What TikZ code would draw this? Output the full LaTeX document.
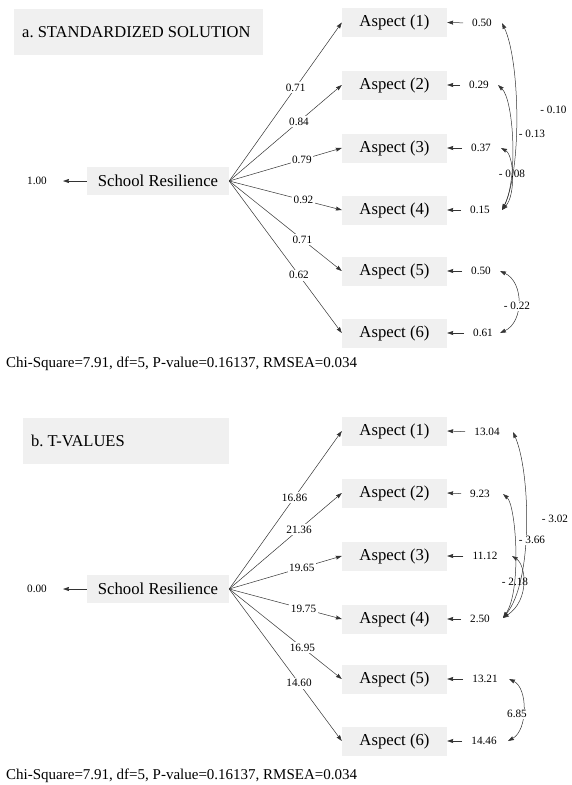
\documentclass[tikz,border=0pt]{standalone}
\usepackage{fontspec}
\setmainfont{Liberation Serif}
\usetikzlibrary{arrows.meta}
\definecolor{boxgray}{HTML}{F0F0F0}
\definecolor{linegray}{HTML}{333333}
\frenchspacing
\begin{document}
\begin{tikzpicture}[x=1pt,y=-1pt,
  titlebox/.style={fill=boxgray, anchor=north west, inner xsep=8pt, inner ysep=0pt, minimum height=46pt, font=\fontsize{16.5}{20}\selectfont},
  srbox/.style={fill=boxgray, inner sep=0pt, minimum width=142pt, minimum height=28pt, font=\fontsize{16.7}{20}\selectfont},
  abox/.style={fill=boxgray, inner sep=0pt, minimum width=105pt, minimum height=29pt, font=\fontsize{16.7}{20}\selectfont},
  lab/.style={inner sep=0pt, font=\fontsize{11.2}{13}\selectfont},
  pl/.style={fill=white, inner sep=1.5pt, font=\fontsize{11.2}{13}\selectfont},
  cl/.style={fill=white, inner sep=1.5pt, font=\fontsize{11.2}{13}\selectfont},
  clnofill/.style={inner sep=0pt, font=\fontsize{11.2}{13}\selectfont},
  chi/.style={anchor=west, inner sep=0pt, font=\fontsize{15}{18}\selectfont},
  pth/.style={draw=linegray, line width=0.5pt, -{Stealth[length=6pt,width=4pt,inset=0.6pt]}},
  arr/.style={draw=linegray, line width=0.5pt, shorten <=9pt, -{Stealth[length=6pt,width=4pt,inset=0.6pt]}},
  cov/.style={draw=linegray, line width=0.5pt, {Stealth[length=6pt,width=4pt,inset=0.6pt]}-{Stealth[length=6pt,width=4pt,inset=0.6pt]}}
]
\useasboundingbox (0,0) rectangle (571,785);

% ================= Panel a =================
\node[titlebox] (ta) at (14,9) {\makebox[233pt][l]{a. STANDARDIZED SOLUTION}};
\node[srbox] (sra) at (158,181) {School Resilience};
\node[lab] (va) at (37,181) {1.00};
\draw[pth, shorten >=16pt] (sra.west) -- (va.east);

\node[abox] (a1) at (394.5,22.5) {Aspect (1)};
\node[abox] (a2) at (394.5,85) {Aspect (2)};
\node[abox] (a3) at (394.5,148) {Aspect (3)};
\node[abox] (a4) at (394.5,210) {Aspect (4)};
\node[abox] (a5) at (394.5,271) {Aspect (5)};
\node[abox] (a6) at (394.5,333) {Aspect (6)};

\draw[pth] (sra.east) -- node[pl,pos=0.59]{0.71} (a1.west);
\draw[pth] (sra.east) -- node[pl,pos=0.62]{0.84} (a2.west);
\draw[pth] (sra.east) -- node[pl,pos=0.645]{0.79} (a3.west);
\draw[pth] (sra.east) -- node[pl,pos=0.66]{0.92} (a4.west);
\draw[pth] (sra.east) -- node[pl,pos=0.65]{0.71} (a5.west);
\draw[pth] (sra.east) -- node[pl,pos=0.62]{0.62} (a6.west);

\node[lab] (ea1) at (482,23) {0.50};
\node[lab] (ea2) at (479,85) {0.29};
\node[lab] (ea3) at (481,148) {0.37};
\node[lab] (ea4) at (480,210) {0.15};
\node[lab] (ea5) at (481,271) {0.50};
\node[lab] (ea6) at (483,333) {0.61};
\draw[arr] (ea1.west) -- (a1.east);
\draw[arr] (ea2.west) -- (a2.east);
\draw[arr] (ea3.west) -- (a3.east);
\draw[arr] (ea4.west) -- (a4.east);
\draw[arr] (ea5.west) -- (a5.east);
\draw[arr] (ea6.west) -- (a6.east);

\coordinate (ca1) at (502,23);
\coordinate (ca2) at (498,85);
\coordinate (ca3) at (501,148);
\coordinate (ca4) at (502,210);
\coordinate (ca5) at (500,271);
\coordinate (ca6) at (500,333);
\draw[cov] (ca1) .. controls (520,60) and (522,170) .. (ca4);
\draw[cov] (ca2) .. controls (514,100) and (518,180) .. (ca4);
\draw[cov] (ca3) .. controls (514,155) and (516,195) .. (ca4);
\draw[cov] (ca5) .. controls (524,282) and (524,322) .. (ca6);
\node[cl] (ka14) at (553.5,110) {- 0.10};
\node[cl] (ka24) at (532,134) {- 0.13};
\node[clnofill] (ka34) at (512,174) {- 0.08};
\node[cl] (ka56) at (517,306) {- 0.22};

\node[chi] (chia) at (6,364) {Chi-Square=7.91, df=5, P-value=0.16137, RMSEA=0.034};

% ================= Panel b =================
\node[titlebox] (tb) at (23,418) {\makebox[190pt][l]{b. T-VALUES}};
\node[srbox] (srb) at (158,589) {School Resilience};
\node[lab] (vb) at (37,589) {0.00};
\draw[pth, shorten >=16pt] (srb.west) -- (vb.east);

\node[abox] (b1) at (394.5,431) {Aspect (1)};
\node[abox] (b2) at (394.5,493) {Aspect (2)};
\node[abox] (b3) at (394.5,556) {Aspect (3)};
\node[abox] (b4) at (394.5,619) {Aspect (4)};
\node[abox] (b5) at (394.5,679) {Aspect (5)};
\node[abox] (b6) at (394.5,741) {Aspect (6)};

\draw[pth] (srb.east) -- node[pl,pos=0.58]{16.86} (b1.west);
\draw[pth] (srb.east) -- node[pl,pos=0.62]{21.36} (b2.west);
\draw[pth] (srb.east) -- node[pl,pos=0.645]{19.65} (b3.west);
\draw[pth] (srb.east) -- node[pl,pos=0.66]{19.75} (b4.west);
\draw[pth] (srb.east) -- node[pl,pos=0.65]{16.95} (b5.west);
\draw[pth] (srb.east) -- node[pl,pos=0.62]{14.60} (b6.west);

\node[lab] (eb1) at (487,432) {13.04};
\node[lab] (eb2) at (480,494) {9.23};
\node[lab] (eb3) at (485,556) {11.12};
\node[lab] (eb4) at (480,619) {2.50};
\node[lab] (eb5) at (485,679) {13.21};
\node[lab] (eb6) at (484,741) {14.46};
\draw[arr] (eb1.west) -- (b1.east);
\draw[arr] (eb2.west) -- (b2.east);
\draw[arr] (eb3.west) -- (b3.east);
\draw[arr] (eb4.west) -- (b4.east);
\draw[arr] (eb5.west) -- (b5.east);
\draw[arr] (eb6.west) -- (b6.east);

\coordinate (cb1) at (513,432);
\coordinate (cb2) at (503,494);
\coordinate (cb3) at (512,556);
\coordinate (cb4) at (503,618);
\coordinate (cb5) at (509,679);
\coordinate (cb6) at (508,741);
\draw[cov] (cb1) .. controls (530,470) and (534,580) .. (cb4);
\draw[cov] (cb2) .. controls (516,505) and (522,590) .. (cb4);
\draw[cov] (cb3) .. controls (526,565) and (530,600) .. (cb4);
\draw[cov] (cb5) .. controls (528,688) and (528,730) .. (cb6);
\node[cl] (kb14) at (555,519) {- 3.02};
\node[cl] (kb24) at (532,540) {- 3.66};
\node[clnofill] (kb34) at (515,582) {- 2.18};
\node[cl] (kb56) at (517,714) {6.85};

\node[chi] (chib) at (6,776) {Chi-Square=7.91, df=5, P-value=0.16137, RMSEA=0.034};
\end{tikzpicture}
\end{document}
